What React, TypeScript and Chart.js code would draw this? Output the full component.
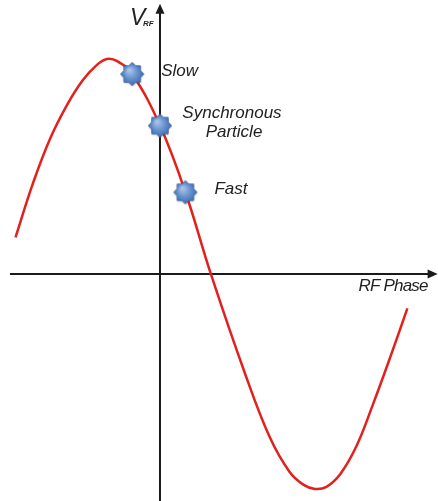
import { useEffect, useRef } from "react";
import { Chart, registerables } from "chart.js";

Chart.register(...registerables);

// Curve: RF phase (degrees, synchronous particle at 0) vs normalised RF voltage
const PHASE = [-125, -110, -95, -80, -67, -55, -46, -37, -24, 0, 22, 44, 74, 95, 112, 124, 134, 144, 156, 170, 184, 199, 214];
const VOLTAGE = [0.17, 0.42, 0.63, 0.79, 0.9, 0.97, 1.0, 0.99, 0.93, 0.69, 0.38, 0.0, -0.47, -0.76, -0.92, -0.98, -1.0, -0.99, -0.93, -0.8, -0.61, -0.39, -0.16];

// Particle markers
const MARKER_LABELS = ["Slow", "Synchronous\nParticle", "Fast"];
const MARKER_PHASE = [-24, 0, 22];
const MARKER_VOLTAGE = [0.93, 0.69, 0.38];

const AXIS_Y_LABEL = "V";
const AXIS_Y_SUB = "RF";
const AXIS_X_LABEL = "RF Phase";

// view extents (data units)
const X_MIN = -138.4;
const X_MAX = 240.5;
const Y_MIN = -1.056;
const Y_MAX = 1.274;
const X_AXIS_FROM = -129.8;
const X_AXIS_TO = 240.2;
const Y_AXIS_FROM = -1.06;
const Y_AXIS_TO = 1.256;

const FONT = "'Liberation Sans', Arial, Helvetica, sans-serif";

function makeStar(): HTMLCanvasElement {
  const size = 30;
  const c = document.createElement("canvas");
  c.width = size;
  c.height = size;
  const ctx = c.getContext("2d")!;
  const cx = size / 2;
  const cy = size / 2;
  const R = 11.6;
  const r = 9.0;
  const n = 8;
  ctx.beginPath();
  for (let i = 0; i < n * 2; i++) {
    const a = -Math.PI / 2 + (i * Math.PI) / n;
    const rad = i % 2 === 0 ? R : r;
    const px = cx + rad * Math.cos(a);
    const py = cy + rad * Math.sin(a);
    if (i === 0) ctx.moveTo(px, py);
    else ctx.lineTo(px, py);
  }
  ctx.closePath();
  ctx.save();
  ctx.shadowColor = "rgba(0,0,0,0.3)";
  ctx.shadowBlur = 2;
  ctx.shadowOffsetY = 1;
  const g = ctx.createRadialGradient(cx - 3, cy - 4, 1, cx, cy, R);
  g.addColorStop(0, "#a7c2e8");
  g.addColorStop(0.55, "#6590cc");
  g.addColorStop(1, "#3e6cae");
  ctx.fillStyle = g;
  ctx.fill();
  ctx.restore();
  ctx.lineWidth = 0.8;
  ctx.strokeStyle = "#3a66a6";
  ctx.stroke();
  return c;
}

const overlayPlugin = {
  id: "overlay",
  beforeDatasetsDraw(chart: any) {
    const { ctx, scales } = chart;
    const xs = scales.x;
    const ys = scales.y;
    const ox = xs.getPixelForValue(0);
    const oy = ys.getPixelForValue(0);
    const xl = xs.getPixelForValue(X_AXIS_FROM);
    const xr = xs.getPixelForValue(X_AXIS_TO);
    const yt = ys.getPixelForValue(Y_AXIS_TO);
    const yb = ys.getPixelForValue(Y_AXIS_FROM);
    ctx.save();
    ctx.strokeStyle = "#1a1a1a";
    ctx.fillStyle = "#1a1a1a";
    ctx.lineWidth = 2;
    // horizontal axis
    ctx.beginPath();
    ctx.moveTo(xl, oy);
    ctx.lineTo(xr - 8, oy);
    ctx.stroke();
    ctx.beginPath();
    ctx.moveTo(xr, oy);
    ctx.lineTo(xr - 10, oy - 4.5);
    ctx.lineTo(xr - 10, oy + 4.5);
    ctx.closePath();
    ctx.fill();
    // vertical axis
    ctx.beginPath();
    ctx.moveTo(ox, yb);
    ctx.lineTo(ox, yt + 8);
    ctx.stroke();
    ctx.beginPath();
    ctx.moveTo(ox, yt);
    ctx.lineTo(ox - 4.5, yt + 10);
    ctx.lineTo(ox + 4.5, yt + 10);
    ctx.closePath();
    ctx.fill();

    // axis labels
    ctx.fillStyle = "#222";
    ctx.textBaseline = "alphabetic";
    ctx.textAlign = "left";
    ctx.font = `italic 23px ${FONT}`;
    ctx.fillText(AXIS_Y_LABEL, ox - 30, yt + 21);
    ctx.font = `italic bold 8px ${FONT}`;
    ctx.fillText(AXIS_Y_SUB, ox - 17, yt + 22);
    ctx.textAlign = "right";
    ctx.font = `italic 17px ${FONT}`;
    (ctx as any).letterSpacing = "-0.8px";
    ctx.fillText(AXIS_X_LABEL, xr - 10, oy + 17);
    (ctx as any).letterSpacing = "0px";
    ctx.restore();
  },
  afterDatasetsDraw(chart: any) {
    const { ctx, scales } = chart;
    const xs = scales.x;
    const ys = scales.y;
    ctx.save();
    ctx.fillStyle = "#222";
    ctx.font = `italic 17px ${FONT}`;
    ctx.textBaseline = "alphabetic";
    MARKER_LABELS.forEach((label, i) => {
      const px = xs.getPixelForValue(MARKER_PHASE[i]);
      const py = ys.getPixelForValue(MARKER_VOLTAGE[i]);
      const lines = label.split("\n");
      if (lines.length > 1) {
        ctx.textAlign = "center";
        lines.forEach((ln, j) => {
          ctx.fillText(ln, px + 72 + j * 2, py - 8 + j * 19);
        });
      } else {
        ctx.textAlign = "left";
        ctx.fillText(label, px + 29, py + 2);
      }
    });
    ctx.restore();
  },
};

export default function App() {
  const ref = useRef<HTMLCanvasElement>(null);
  useEffect(() => {
    if (!ref.current) return;
    const star = makeStar();
    const chart = new Chart(ref.current, {
      type: "line",
      data: {
        datasets: [
          {
            data: MARKER_PHASE.map((x, i) => ({ x, y: MARKER_VOLTAGE[i] })),
            showLine: false,
            pointStyle: star as any,
            pointRadius: 12,
          },
          {
            data: PHASE.map((x, i) => ({ x, y: VOLTAGE[i] })),
            borderColor: "#e3201c",
            borderWidth: 2.5,
            pointRadius: 0,
            fill: false,
            tension: 0.4,
          },
        ],
      },
      options: {
        responsive: false,
        maintainAspectRatio: false,
        animation: false,
        events: [],
        layout: { padding: 0, autoPadding: false },
        plugins: { legend: { display: false }, tooltip: { enabled: false } },
        scales: {
          x: { type: "linear", display: false, min: X_MIN, max: X_MAX },
          y: { type: "linear", display: false, min: Y_MIN, max: Y_MAX },
        },
      },
      plugins: [overlayPlugin],
    });
    return () => chart.destroy();
  }, []);
  return (
    <div style={{ position: "fixed", left: 0, top: 0, width: 438, height: 501, background: "#fff" }}>
      <canvas ref={ref} width={438} height={501} style={{ display: "block" }} />
    </div>
  );
}
